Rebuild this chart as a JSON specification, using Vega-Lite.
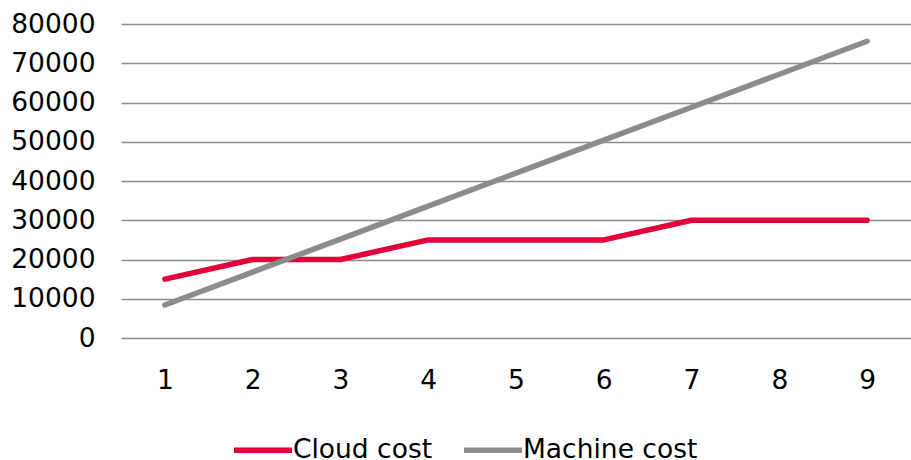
{
  "$schema": "https://vega.github.io/schema/vega-lite/v6.json",
  "width": 790,
  "height": 314,
  "autosize": {"type": "none"},
  "padding": {"left": 121, "top": 24, "right": 0, "bottom": 122},
  "background": "white",
  "config": {"view": {"stroke": null}, "font": "DejaVu Sans"},
  "data": {"values": [
    {"x": 1, "series": "Cloud cost", "v": 15000},
    {"x": 2, "series": "Cloud cost", "v": 20000},
    {"x": 3, "series": "Cloud cost", "v": 20000},
    {"x": 4, "series": "Cloud cost", "v": 25000},
    {"x": 5, "series": "Cloud cost", "v": 25000},
    {"x": 6, "series": "Cloud cost", "v": 25000},
    {"x": 7, "series": "Cloud cost", "v": 30000},
    {"x": 8, "series": "Cloud cost", "v": 30000},
    {"x": 9, "series": "Cloud cost", "v": 30000},
    {"x": 1, "series": "Machine cost", "v": 8400},
    {"x": 2, "series": "Machine cost", "v": 16800},
    {"x": 3, "series": "Machine cost", "v": 25200},
    {"x": 4, "series": "Machine cost", "v": 33600},
    {"x": 5, "series": "Machine cost", "v": 42000},
    {"x": 6, "series": "Machine cost", "v": 50400},
    {"x": 7, "series": "Machine cost", "v": 58800},
    {"x": 8, "series": "Machine cost", "v": 67200},
    {"x": 9, "series": "Machine cost", "v": 75600}
  ]},
  "mark": {"type": "line", "strokeWidth": 5.5, "strokeCap": "round", "strokeJoin": "round"},
  "encoding": {
    "x": {
      "field": "x", "type": "ordinal",
      "scale": {"type": "point", "padding": 0.5},
      "axis": {"title": null, "labelAngle": 0, "labelFontSize": 26.5, "labelColor": "#000", "labelFont": "DejaVu Sans", "ticks": false, "domain": false, "grid": false, "labelPadding": 29}
    },
    "y": {
      "field": "v", "type": "quantitative",
      "scale": {"domain": [0, 80000], "nice": false},
      "axis": {"title": null, "values": [0, 10000, 20000, 30000, 40000, 50000, 60000, 70000, 80000], "format": "d", "labelFontSize": 26.5, "labelColor": "#000", "labelFont": "DejaVu Sans", "ticks": false, "domain": false, "grid": true, "gridColor": "#8c8c8c", "gridWidth": 1.5, "gridOpacity": 1, "labelPadding": 26}
    },
    "color": {
      "field": "series", "type": "nominal",
      "scale": {"domain": ["Cloud cost", "Machine cost"], "range": ["#e4003b", "#8c8c8c"]},
      "legend": {"title": null, "orient": "none", "legendX": 110, "legendY": 394, "direction": "horizontal", "symbolType": "stroke", "symbolSize": 3364, "symbolStrokeWidth": 5.5, "labelFontSize": 26.5, "labelColor": "#000", "labelFont": "DejaVu Sans", "labelLimit": 0, "labelOffset": -2, "columnPadding": 20}
    }
  }
}
